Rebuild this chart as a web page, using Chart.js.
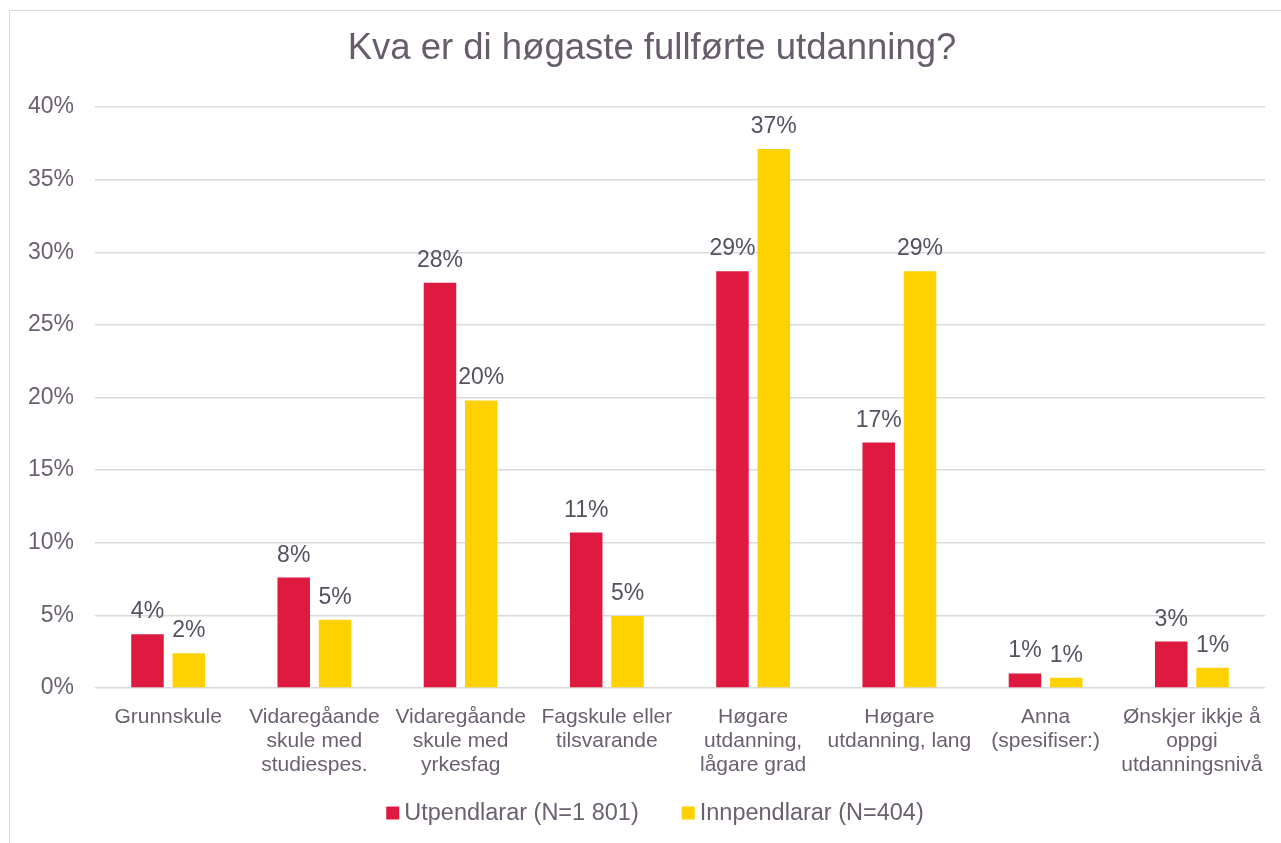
<!DOCTYPE html>
<html>
<head>
<meta charset="utf-8">
<script src="https://cdn.jsdelivr.net/npm/chart.js@4/dist/chart.umd.min.js"></script>
<style>
  html, body { margin: 0; padding: 0; background: #ffffff; }
  #wrap { position: relative; width: 1281px; height: 843px; overflow: hidden; }
</style>
</head>
<body>
<div id="wrap"><canvas id="c" width="1281" height="843"></canvas></div>
<script>
const chartTitle = 'Kva er di høgaste fullførte utdanning?';
const categories = [
  ['Grunnskule'],
  ['Vidaregåande', 'skule med', 'studiespes.'],
  ['Vidaregåande', 'skule med', 'yrkesfag'],
  ['Fagskule eller', 'tilsvarande'],
  ['Høgare', 'utdanning,', 'lågare grad'],
  ['Høgare', 'utdanning, lang'],
  ['Anna', '(spesifiser:)'],
  ['Ønskjer ikkje å', 'oppgi', 'utdanningsnivå']
];
const seriesNames = ['Utpendlarar (N=1 801)', 'Innpendlarar (N=404)'];
const utpendlarar = [3.7, 7.6, 27.9, 10.7, 28.7, 16.9, 1.0, 3.2];
const innpendlarar = [2.4, 4.7, 19.8, 4.96, 37.1, 28.7, 0.7, 1.4];
const yTicks = [0, 5, 10, 15, 20, 25, 30, 35, 40];

const FONT = "'Liberation Sans', Arial, sans-serif";
const TEXT = '#6b6070';
const LABEL = '#575060';
const GRID = '#d9d9d9';
const colors = ['#DF1A40', '#FFD100'];

const framePlugin = {
  id: 'frame',
  beforeDraw(chart) {
    const ctx = chart.ctx;
    ctx.save();
    ctx.fillStyle = '#ffffff';
    ctx.fillRect(0, 0, chart.width, chart.height);
    ctx.strokeStyle = GRID;
    ctx.lineWidth = 1;
    ctx.strokeRect(9.5, 10.5, 1285, 900);
    ctx.restore();
  }
};

const titlePlugin = {
  id: 'customTitle',
  afterDraw(chart) {
    const ctx = chart.ctx;
    ctx.save();
    ctx.font = "36.5px " + FONT;
    ctx.fillStyle = '#675c6b';
    ctx.textAlign = 'center';
    ctx.textBaseline = 'alphabetic';
    ctx.fillText(chartTitle, 652, 59);
    ctx.restore();
  }
};

const valueLabels = {
  id: 'valueLabels',
  afterDatasetsDraw(chart) {
    const ctx = chart.ctx;
    ctx.save();
    ctx.font = "23px " + FONT;
    ctx.fillStyle = LABEL;
    ctx.textAlign = 'center';
    ctx.textBaseline = 'alphabetic';
    chart.data.datasets.forEach((ds, di) => {
      const meta = chart.getDatasetMeta(di);
      meta.data.forEach((el, i) => {
        ctx.fillText(Math.round(ds.data[i]) + '%', el.x, el.y - 16);
      });
    });
    ctx.restore();
  }
};

const legendPlugin = {
  id: 'customLegend',
  afterDraw(chart) {
    const ctx = chart.ctx;
    ctx.save();
    ctx.font = "23.5px " + FONT;
    const box = 13, gap = 5, itemGap = 43;
    const items = chart.data.datasets.map(ds => ({ label: ds.label, color: ds.backgroundColor, w: ctx.measureText(ds.label).width }));
    let total = 0;
    items.forEach((it, i) => { total += box + gap + it.w + (i < items.length - 1 ? itemGap : 0); });
    let x = 655 - total / 2;
    const cy = 813;
    items.forEach(it => {
      ctx.fillStyle = it.color;
      ctx.fillRect(x, cy - 6.5, box, box);
      x += box + gap;
      ctx.fillStyle = TEXT;
      ctx.textAlign = 'left';
      ctx.textBaseline = 'middle';
      ctx.fillText(it.label, x, cy + 1);
      x += it.w + itemGap;
    });
    ctx.restore();
  }
};

new Chart(document.getElementById('c'), {
  type: 'bar',
  data: {
    labels: categories,
    datasets: [
      { label: seriesNames[0], data: utpendlarar, backgroundColor: colors[0], categoryPercentage: 0.565, barPercentage: 0.787 },
      { label: seriesNames[1], data: innpendlarar, backgroundColor: colors[1], categoryPercentage: 0.565, barPercentage: 0.787 }
    ]
  },
  options: {
    responsive: false,
    animation: false,
    layout: { padding: { top: 107, right: 16, bottom: 0, left: 0 } },
    plugins: {
      legend: { display: false },
      title: { display: false },
      tooltip: { enabled: false }
    },
    scales: {
      x: {
        grid: { display: false },
        border: { display: false },
        ticks: {
          color: TEXT,
          font: { family: FONT, size: 21, lineHeight: 24 / 21 },
          padding: 9,
          maxRotation: 0,
          minRotation: 0,
          autoSkip: false
        },
        afterFit(s) { s.height = 843 - 688; }
      },
      y: {
        min: 0,
        max: 40,
        afterBuildTicks(s) { s.ticks = yTicks.map(v => ({ value: v })); },
        grid: { color: GRID, lineWidth: 1.5, drawTicks: false },
        border: { display: false },
        ticks: {
          color: TEXT,
          font: { family: FONT, size: 23 },
          padding: 21,
          callback: v => v + '%'
        },
        afterFit(s) { s.width = 95; }
      }
    }
  },
  plugins: [framePlugin, titlePlugin, valueLabels, legendPlugin]
});
</script>
</body>
</html>
